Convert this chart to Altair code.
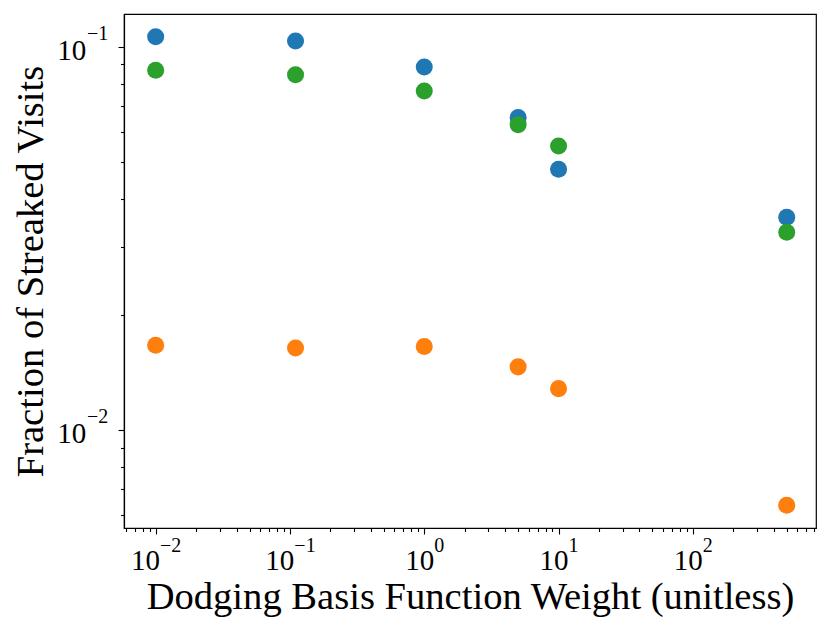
import altair as alt
import pandas as pd

# Data
x_vals = [0.01, 0.11, 1, 5, 10, 500]
blue_vals = [0.1062, 0.1035, 0.0885, 0.0653, 0.0479, 0.0359]
orange_vals = [0.01664, 0.01637, 0.01651, 0.01461, 0.01282, 0.00636]
green_vals = [0.0868, 0.0845, 0.0766, 0.0626, 0.0551, 0.0328]

series_names = ["blue", "orange", "green"]
series_colors = ["#1f77b4", "#ff7f0e", "#2ca02c"]

x_major = [0.01, 0.1, 1, 10, 100]
x_major_exp = ["\u22122", "\u22121", "0", "1", "2"]
y_major = [0.01, 0.1]
y_major_exp = ["\u22122", "\u22121"]
minor_mult = [2, 3, 4, 5, 6, 7, 8, 9]

x_dom = [0.00581, 826]
y_dom = [0.00555, 0.1217]

x_minor = [round(m * d, 10) for d in [0.001, 0.01, 0.1, 1, 10, 100] for m in minor_mult
           if x_dom[0] <= m * d <= x_dom[1]]
y_minor = [round(m * d, 10) for d in [0.001, 0.01] for m in minor_mult
           if y_dom[0] <= m * d <= y_dom[1]]

rows = []
for name, vals in zip(series_names, [blue_vals, orange_vals, green_vals]):
    for xv, yv in zip(x_vals, vals):
        rows.append({"weight": xv, "fraction": yv, "series": name})
df = pd.DataFrame(rows)
df["order"] = range(len(df))

FONT = "Liberation Serif"
LABEL_SIZE = 29
EXP_SIZE = 20
TITLE_SIZE = 38.6


def is_val(v):
    return f"abs(datum.value - {v}) < {v}*1e-6"


def label_expr(vals, labels):
    expr = "''"
    for v, l in zip(reversed(vals), reversed(labels)):
        expr = f"{is_val(v)} ? '{l}' : ({expr})"
    return expr


def any_test(vals):
    return " || ".join([is_val(v) for v in vals])


neg_x = [v for v, e in zip(x_major, x_major_exp) if e.startswith("\u2212")]

xs = alt.Scale(type="log", domain=x_dom, nice=False)
ys = alt.Scale(type="log", domain=y_dom, nice=False)

common = dict(grid=False, labelOverlap=False, labelFlush=False, labelColor="black", labelFont=FONT)

# Axes with ticks, domain and titles
x_axis_ticks = alt.Axis(
    orient="bottom",
    values=sorted(x_major + x_minor),
    labels=False,
    grid=False,
    tickSize={"condition": {"test": any_test(x_major), "value": 6}, "value": 3.5},
    tickWidth=1.1, tickColor="black",
    domainColor="black", domainWidth=1.2,
    title="Dodging Basis Function Weight (unitless)",
    titleFont=FONT, titleFontSize=TITLE_SIZE, titleFontWeight="normal",
    titleColor="black", titleBaseline="alphabetic", titleY=80,
)
y_axis_ticks = alt.Axis(
    orient="left",
    values=sorted(y_major + y_minor),
    labels=False,
    grid=False,
    tickSize={"condition": {"test": any_test(y_major), "value": 6}, "value": 3.5},
    tickWidth=1.1, tickColor="black",
    domainColor="black", domainWidth=1.2,
    title="Fraction of Streaked Visits",
    titleFont=FONT, titleFontSize=TITLE_SIZE, titleFontWeight="normal",
    titleColor="black", titleBaseline="alphabetic", titleX=-82,
)

# Axes carrying the base "10"
x_axis_base = alt.Axis(
    orient="bottom", values=x_major, labelExpr="'10'",
    ticks=False, tickSize=0, domain=False, title=None,
    labelFontSize=LABEL_SIZE, labelAlign="center", labelBaseline="alphabetic",
    labelPadding=41,
    labelOffset={"condition": {"test": any_test(neg_x), "value": -10.6}, "value": -5},
    **common,
)
y_axis_base = alt.Axis(
    orient="left", values=y_major, labelExpr="'10'",
    ticks=False, tickSize=0, domain=False, title=None,
    labelFontSize=LABEL_SIZE, labelAlign="right", labelBaseline="alphabetic",
    labelPadding=38.3, labelOffset=12.6,
    **common,
)

# Axes carrying the exponents
x_axis_exp = alt.Axis(
    orient="bottom", values=x_major, labelExpr=label_expr(x_major, x_major_exp),
    ticks=False, tickSize=0, domain=False, title=None,
    labelFontSize=EXP_SIZE, labelAlign="left", labelBaseline="alphabetic",
    labelPadding=23.5,
    labelOffset={"condition": {"test": any_test(neg_x), "value": 3.9}, "value": 9.5},
    **common,
)
y_axis_exp = alt.Axis(
    orient="left", values=y_major, labelExpr=label_expr(y_major, y_major_exp),
    ticks=False, tickSize=0, domain=False, title=None,
    labelFontSize=EXP_SIZE, labelAlign="left", labelBaseline="alphabetic",
    labelPadding=37.5, labelOffset=-7.4,
    **common,
)

base = alt.Chart(df)

points = base.mark_circle(size=290, opacity=1).encode(
    x=alt.X("weight:Q", scale=xs, axis=x_axis_ticks),
    y=alt.Y("fraction:Q", scale=ys, axis=y_axis_ticks),
    color=alt.Color("series:N", scale=alt.Scale(domain=series_names, range=series_colors), legend=None),
    order=alt.Order("order:Q"),
)

base_labels = base.mark_point(opacity=0, size=1).encode(
    x=alt.X("weight:Q", scale=xs, axis=x_axis_base),
    y=alt.Y("fraction:Q", scale=ys, axis=y_axis_base),
)

exp_labels = base.mark_point(opacity=0, size=1).encode(
    x=alt.X("weight:Q", scale=xs, axis=x_axis_exp),
    y=alt.Y("fraction:Q", scale=ys, axis=y_axis_exp),
)

chart = (
    alt.layer(points, base_labels, exp_labels)
    .resolve_axis(x="independent", y="independent")
    .properties(
        width=692,
        height=514,
        autosize="none",
        padding={"left": 116, "top": 6, "right": 6, "bottom": 98},
    )
    .configure(background="white")
    .configure_view(stroke="black", strokeWidth=1.2)
)

chart.save("out.html", embed_options={"renderer": "svg", "actions": False})
